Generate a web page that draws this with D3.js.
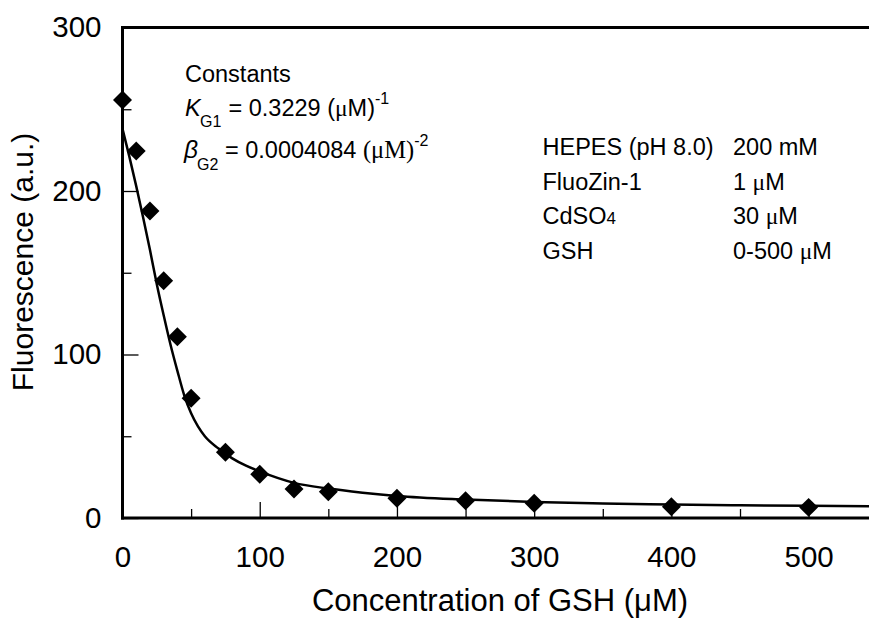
<!DOCTYPE html>
<html>
<head>
<meta charset="utf-8">
<script src="https://cdn.jsdelivr.net/npm/d3@7"></script>
<style>
  html, body { margin: 0; padding: 0; background: #fff; }
  svg { display: block; }
  text { font-family: "Liberation Sans", Arial, sans-serif; fill: #000; }
</style>
</head>
<body>
<svg id="chart" width="869" height="619"></svg>
<script>
// ---- data ----
const gshConc = [0, 10, 20, 30, 40, 50, 75, 100, 125, 150, 200, 250, 300, 400, 500];
const fluorescence = [255.7, 224.5, 187.8, 145.1, 110.9, 73.2, 40.2, 26.7, 17.7, 16.0, 12.1, 10.6, 9.0, 6.9, 6.5];
const fitX = [0, 5, 10, 15, 20, 25, 30, 35, 40, 45, 50, 55, 60, 70, 80, 90, 100, 125, 150, 175, 200, 250, 300, 350, 400, 450, 500, 544];
const fitY = [238, 221, 203, 184, 164, 143, 124, 106, 90, 75, 64, 56, 50, 42.5, 36.5, 32, 28.5, 21.5, 18, 15.5, 13.5, 11.3, 9.8, 8.9, 8.3, 7.8, 7.5, 7.2];
const xTicksMajor = [0, 100, 200, 300, 400, 500];
const xTicksMinor = [50, 150, 250, 350, 450];
const yTicksMajor = [0, 100, 200, 300];
const yTicksMinor = [50, 150, 250];
const xTitle = "Concentration of GSH (μM)";
const yTitle = "Fluorescence (a.u.)";

// ---- layout ----
const svg = d3.select("#chart");
const x = d3.scaleLinear().domain([0, 544]).range([122.5, 869]);
const y = d3.scaleLinear().domain([0, 300]).range([518, 27.5]);

const tickFont = 29.5;

// y axis major
const gy = svg.append("g").attr("transform", `translate(${x(0)},0)`)
  .call(d3.axisLeft(y).tickValues(yTicksMajor).tickSizeInner(-16).tickSizeOuter(0).tickPadding(21).tickFormat(d3.format("d")));
gy.select(".domain").remove();
gy.selectAll("line").attr("stroke", "#000").attr("stroke-width", 1.3);
gy.selectAll("text").attr("font-size", tickFont).attr("font-family", "Liberation Sans, Arial, sans-serif").attr("fill", "#000");
// y minor
const gym = svg.append("g").attr("transform", `translate(${x(0)},0)`)
  .call(d3.axisLeft(y).tickValues(yTicksMinor).tickSizeInner(-9).tickSizeOuter(0).tickFormat(""));
gym.select(".domain").remove();
gym.selectAll("line").attr("stroke", "#000").attr("stroke-width", 1.3);

// x axis major
const gx = svg.append("g").attr("transform", `translate(0,${y(0)})`)
  .call(d3.axisBottom(x).tickValues(xTicksMajor).tickSizeInner(-16).tickSizeOuter(0).tickPadding(28).tickFormat(d3.format("d")));
gx.select(".domain").remove();
gx.selectAll("line").attr("stroke", "#000").attr("stroke-width", 1.3);
gx.selectAll("text").attr("font-size", tickFont).attr("font-family", "Liberation Sans, Arial, sans-serif").attr("fill", "#000");
const gxm = svg.append("g").attr("transform", `translate(0,${y(0)})`)
  .call(d3.axisBottom(x).tickValues(xTicksMinor).tickSizeInner(-9).tickSizeOuter(0).tickFormat(""));
gxm.select(".domain").remove();
gxm.selectAll("line").attr("stroke", "#000").attr("stroke-width", 1.3);

// frame lines
const frame = svg.append("g").attr("stroke", "#000").attr("stroke-width", 3).attr("fill", "none");
frame.append("line").attr("x1", x(0)).attr("x2", x(0)).attr("y1", y(300) - 1.5).attr("y2", y(0) + 1.5);
frame.append("line").attr("x1", x(0) - 1.5).attr("x2", 869).attr("y1", y(0)).attr("y2", y(0));
frame.append("line").attr("x1", x(0) - 1.5).attr("x2", 869).attr("y1", y(300)).attr("y2", y(300));

// fitted curve
const line = d3.line().x((d, i) => x(fitX[i])).y((d, i) => y(fitY[i])).curve(d3.curveMonotoneX);
svg.append("path").datum(fitY).attr("d", line)
  .attr("fill", "none").attr("stroke", "#000").attr("stroke-width", 2.5);

// data markers (diamonds)
const diamond = d3.symbol().type(d3.symbolSquare).size(180);
svg.append("g").selectAll("path").data(gshConc).join("path")
  .attr("d", diamond)
  .attr("transform", (d, i) => `translate(${x(d)},${y(fluorescence[i])}) rotate(45)`)
  .attr("fill", "#000");

// axis titles
svg.append("text").attr("x", 500).attr("y", 611).attr("text-anchor", "middle")
  .attr("font-size", 31).text(xTitle);
svg.append("text").attr("transform", "translate(33,262) rotate(-90)").attr("text-anchor", "middle")
  .attr("font-size", 30).text(yTitle);

// constants annotation
const aFont = 23.5;
const subFont = 16;
const serif = "Liberation Serif, Times New Roman, serif";
svg.append("text").attr("x", 185).attr("y", 81.5).attr("font-size", aFont).text("Constants");
svg.append("text").attr("x", 185).attr("y", 116).attr("font-size", aFont).attr("font-style", "italic").text("K");
svg.append("text").attr("x", 200).attr("y", 127).attr("font-size", subFont).text("G1");
const kt = svg.append("text").attr("x", 228.5).attr("y", 116).attr("font-size", aFont);
kt.append("tspan").text("= 0.3229 (");
kt.append("tspan").attr("font-family", serif).text("μ");
kt.append("tspan").text("M)");
kt.append("tspan").attr("font-size", subFont).attr("dy", -12).text("-1");
svg.append("text").attr("x", 184).attr("y", 158).attr("font-size", aFont + 1).attr("font-style", "italic").attr("font-family", serif).text("β");
svg.append("text").attr("x", 197).attr("y", 170).attr("font-size", subFont).text("G2");
const bt = svg.append("text").attr("x", 225).attr("y", 158).attr("font-size", aFont);
bt.append("tspan").text("= 0.0004084 ");
bt.append("tspan").attr("font-family", serif).attr("font-size", aFont + 1).text("(μM)");
bt.append("tspan").attr("font-size", subFont).attr("dy", -12).text("-2");

// conditions annotation
const condLabels = ["HEPES (pH 8.0)", "FluoZin-1", "CdSO", "GSH"];
const condValues = ["200 mM", "1 ", "30 ", "0-500 "];
const condBase = [155, 189.5, 224, 258.5];
condLabels.forEach((lab, i) => {
  const t = svg.append("text").attr("x", 542.5).attr("y", condBase[i]).attr("font-size", aFont);
  t.append("tspan").text(lab);
  if (lab === "CdSO") t.append("tspan").attr("font-size", 17).text("4");
  const v = svg.append("text").attr("x", 733).attr("y", condBase[i]).attr("font-size", aFont);
  v.append("tspan").text(condValues[i]);
  if (i > 0) {
    v.append("tspan").attr("font-family", serif).text("μ");
    v.append("tspan").text("M");
  }
});
</script>
</body>
</html>
